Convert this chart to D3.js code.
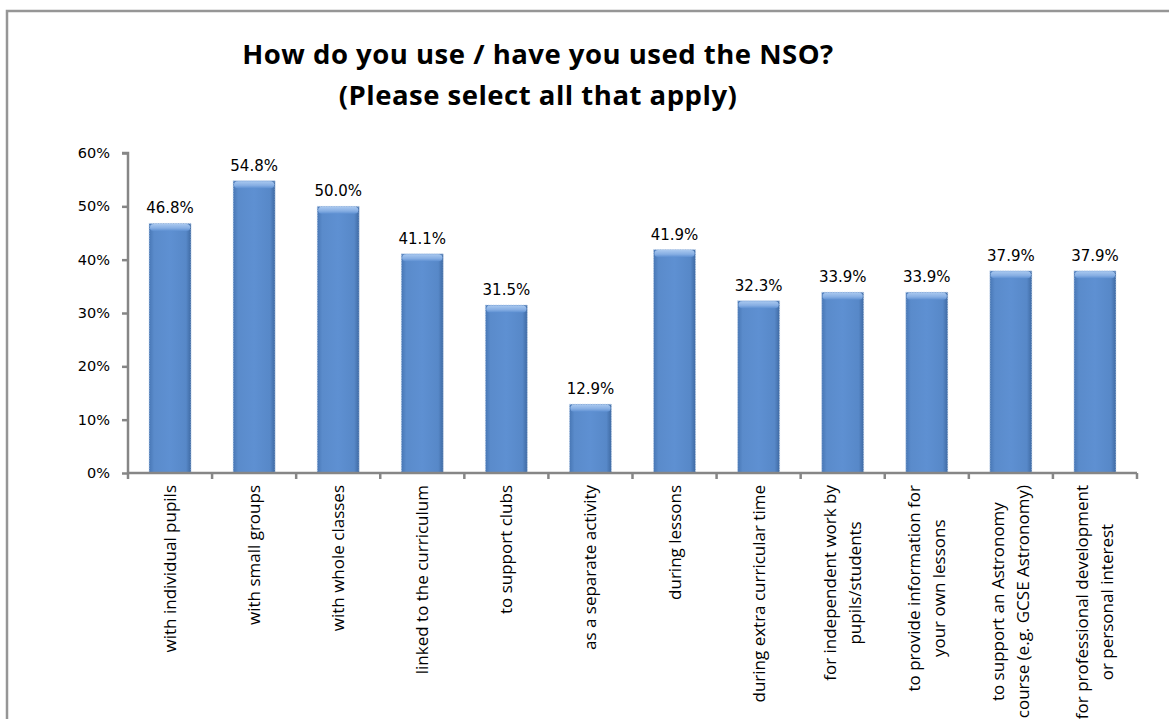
<!DOCTYPE html>
<html><head><meta charset="utf-8">
<script src="https://cdn.jsdelivr.net/npm/d3@7"></script>
<style>html,body{margin:0;padding:0;background:#fff;}svg{display:block;}</style>
</head><body>
<svg id="chart" width="1169" height="719"></svg>
<script>
const categories = [
  "with individual pupils",
  "with small groups",
  "with whole classes",
  "linked to the curriculum",
  "to support clubs",
  "as a separate activity",
  "during lessons",
  "during extra curricular time",
  "for independent work by\npupils/students",
  "to provide information for\nyour own lessons",
  "to support an Astronomy\ncourse (e.g. GCSE Astronomy)",
  "for professional development\nor personal interest"
];
const values = [46.8, 54.8, 50.0, 41.1, 31.5, 12.9, 41.9, 32.3, 33.9, 33.9, 37.9, 37.9];
const yTicks = [0, 10, 20, 30, 40, 50, 60];
const titleLines = ["How do you use / have you used the NSO?", "(Please select all that apply)"];

const svg = d3.select("#chart");
const W = 1169, H = 719;
const m = {left: 128, right: 1137, top: 153, bottom: 473};

// outer frame
svg.append("path").attr("d", `M7,${H+5} L7,11 L${W+5},11`)
  .attr("fill", "none").attr("stroke", "#969696").attr("stroke-width", 2.5);

// defs: gradients
const defs = svg.append("defs");
const g1 = defs.append("linearGradient").attr("id", "barGrad").attr("x1", "0").attr("x2", "1").attr("y1", "0").attr("y2", "0");
[[0, "#4877b5"], [0.12, "#5a8bcb"], [0.5, "#5e90d2"], [0.88, "#5788c8"], [1, "#3f6aa3"]]
  .forEach(([o, c]) => g1.append("stop").attr("offset", o).attr("stop-color", c));
const g2 = defs.append("linearGradient").attr("id", "capGrad").attr("x1", "0").attr("x2", "0").attr("y1", "0").attr("y2", "1");
[[0, "#a9c8ef"], [0.6, "#86aee3"], [1, "#5e90d2"]]
  .forEach(([o, c]) => g2.append("stop").attr("offset", o).attr("stop-color", c));

const x = d3.scaleBand().domain(d3.range(categories.length)).range([m.left, m.right]).paddingInner(0.5).paddingOuter(0.25);
const y = d3.scaleLinear().domain([0, 60]).range([m.bottom, m.top]);

// title
const title = svg.append("text").attr("text-anchor", "middle")
  .attr("font-family", "'Open Sans', Lato, sans-serif").attr("font-weight", "bold")
  .attr("font-size", 27.5).attr("letter-spacing", 0.5).attr("fill", "#000");
titleLines.forEach((t, i) => title.append("tspan").attr("x", 538).attr("y", 64 + i * 41).text(t));

// bars
const bars = svg.append("g");
categories.forEach((c, i) => {
  const bx = x(i), bw = x.bandwidth(), by = y(values[i]), bh = y(0) - y(values[i]);
  bars.append("rect").attr("x", bx).attr("y", by).attr("width", bw).attr("height", bh)
    .attr("fill", "url(#barGrad)").attr("stroke", "#c9d9ee").attr("stroke-width", 0.8).attr("stroke-dasharray", "1.5,1");
  bars.append("rect").attr("x", bx + 1).attr("y", by + 0.5).attr("width", bw - 2).attr("height", 7)
    .attr("rx", 4).attr("ry", 3).attr("fill", "url(#capGrad)");
  bars.append("text").attr("x", bx + bw / 2).attr("y", by - 10)
    .attr("text-anchor", "middle").attr("font-family", "'DejaVu Sans', Verdana, sans-serif")
    .attr("font-size", 15).attr("fill", "#000").text(values[i].toFixed(1) + "%");
});

// y axis
const yAxis = d3.axisLeft(y).tickValues(yTicks).tickFormat(d => d + "%").tickSize(6).tickPadding(12);
const ya = svg.append("g").attr("transform", `translate(${m.left},0)`).call(yAxis);
ya.select(".domain").attr("stroke", "#868686").attr("stroke-width", 2.5).attr("d", `M-6,${m.top}H0V${m.bottom}`);
ya.selectAll(".tick line").attr("stroke", "#868686").attr("stroke-width", 2.5);
ya.selectAll(".tick text").attr("font-family", "'DejaVu Sans', Verdana, sans-serif").attr("font-size", 14.5).attr("fill", "#000");

// x axis
const xa = svg.append("g").attr("transform", `translate(0,${m.bottom})`);
xa.append("line").attr("x1", m.left).attr("x2", m.right).attr("y1", 0).attr("y2", 0)
  .attr("stroke", "#868686").attr("stroke-width", 2.5);
d3.range(categories.length + 1).forEach(i => {
  const tx = m.left + i * (m.right - m.left) / categories.length;
  xa.append("line").attr("x1", tx).attr("x2", tx).attr("y1", 0).attr("y2", 6)
    .attr("stroke", "#868686").attr("stroke-width", 2.5);
});

// category labels
const lab = svg.append("g");
categories.forEach((c, i) => {
  const lines = c.split("\n");
  const cx = x(i) + x.bandwidth() / 2;
  const g = lab.append("g");
  const texts = lines.map(l => g.append("text").attr("font-family", "'Open Sans', Lato, sans-serif")
    .attr("font-size", 17).attr("fill", "#000").attr("text-anchor", "middle").text(l));
  const maxLen = d3.max(texts, t => t.node().getComputedTextLength());
  const n = lines.length, lh = 25;
  texts.forEach((t, k) => {
    const px = cx + (k - (n - 1) / 2) * lh + 6;
    const py = 485 + maxLen / 2;
    t.attr("transform", `translate(${px},${py}) rotate(-90)`);
  });
});
</script>
</body></html>
